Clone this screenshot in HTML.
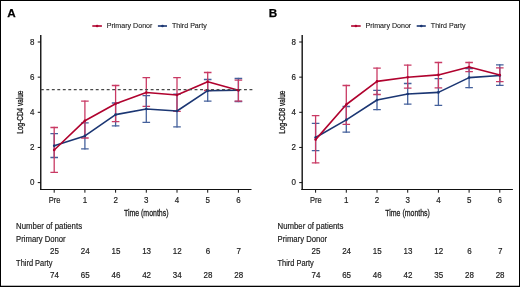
<!DOCTYPE html>
<html><head><meta charset="utf-8"><style>
html,body{margin:0;padding:0;background:#fff;}
svg{display:block;will-change:transform;font-family:"Liberation Sans", sans-serif;}
</style></head><body>
<svg width="520" height="287" viewBox="0 0 520 287">
<rect x="0" y="0" width="520" height="287" fill="#fff"/>
<text x="7.35" y="17.0" font-size="11.7" font-weight="bold" fill="#000" stroke="#000" stroke-width="0.25">A</text>
<line x1="92.3" y1="26" x2="101.9" y2="26" stroke="#b0022e" stroke-width="1.6"/>
<circle cx="97.1" cy="26" r="1.35" fill="#b0022e"/>
<text transform="translate(106.70,28.00) scale(1.0,1)" font-size="7.1" text-anchor="start" fill="#1a1a1a" stroke="#1a1a1a" stroke-width="0.1">Primary Donor</text>
<line x1="157.9" y1="26" x2="167" y2="26" stroke="#1b3673" stroke-width="1.6"/>
<circle cx="162.5" cy="26" r="1.35" fill="#1b3673"/>
<text transform="translate(172.00,28.00) scale(1.0,1)" font-size="7.1" text-anchor="start" fill="#1a1a1a" stroke="#1a1a1a" stroke-width="0.1">Third Party</text>
<line x1="40.75" y1="35" x2="40.75" y2="190" stroke="#1a1a1a" stroke-width="1.45"/>
<line x1="40" y1="189.5" x2="251.5" y2="189.5" stroke="#111" stroke-width="1.2"/>
<line x1="37.75" y1="182.60" x2="40.75" y2="182.60" stroke="#111" stroke-width="1"/>
<text transform="translate(34.45,185.20) scale(0.92,1)" font-size="8.7" text-anchor="end" fill="#1a1a1a" stroke="#1a1a1a" stroke-width="0.18">0</text>
<line x1="37.75" y1="147.45" x2="40.75" y2="147.45" stroke="#111" stroke-width="1"/>
<text transform="translate(34.45,150.05) scale(0.92,1)" font-size="8.7" text-anchor="end" fill="#1a1a1a" stroke="#1a1a1a" stroke-width="0.18">2</text>
<line x1="37.75" y1="112.30" x2="40.75" y2="112.30" stroke="#111" stroke-width="1"/>
<text transform="translate(34.45,114.90) scale(0.92,1)" font-size="8.7" text-anchor="end" fill="#1a1a1a" stroke="#1a1a1a" stroke-width="0.18">4</text>
<line x1="37.75" y1="77.15" x2="40.75" y2="77.15" stroke="#111" stroke-width="1"/>
<text transform="translate(34.45,79.75) scale(0.92,1)" font-size="8.7" text-anchor="end" fill="#1a1a1a" stroke="#1a1a1a" stroke-width="0.18">6</text>
<line x1="37.75" y1="42.00" x2="40.75" y2="42.00" stroke="#111" stroke-width="1"/>
<text transform="translate(34.45,44.60) scale(0.92,1)" font-size="8.7" text-anchor="end" fill="#1a1a1a" stroke="#1a1a1a" stroke-width="0.18">8</text>
<line x1="54.2" y1="189.5" x2="54.2" y2="192.7" stroke="#111" stroke-width="1"/>
<text transform="translate(54.50,202.70) scale(0.87,1)" font-size="8.7" text-anchor="middle" fill="#1a1a1a" stroke="#1a1a1a" stroke-width="0.18">Pre</text>
<line x1="84.9" y1="189.5" x2="84.9" y2="192.7" stroke="#111" stroke-width="1"/>
<text transform="translate(84.90,202.70) scale(0.92,1)" font-size="8.7" text-anchor="middle" fill="#1a1a1a" stroke="#1a1a1a" stroke-width="0.18">1</text>
<line x1="115.6" y1="189.5" x2="115.6" y2="192.7" stroke="#111" stroke-width="1"/>
<text transform="translate(115.60,202.70) scale(0.92,1)" font-size="8.7" text-anchor="middle" fill="#1a1a1a" stroke="#1a1a1a" stroke-width="0.18">2</text>
<line x1="146.3" y1="189.5" x2="146.3" y2="192.7" stroke="#111" stroke-width="1"/>
<text transform="translate(146.30,202.70) scale(0.92,1)" font-size="8.7" text-anchor="middle" fill="#1a1a1a" stroke="#1a1a1a" stroke-width="0.18">3</text>
<line x1="177.0" y1="189.5" x2="177.0" y2="192.7" stroke="#111" stroke-width="1"/>
<text transform="translate(177.00,202.70) scale(0.92,1)" font-size="8.7" text-anchor="middle" fill="#1a1a1a" stroke="#1a1a1a" stroke-width="0.18">4</text>
<line x1="207.7" y1="189.5" x2="207.7" y2="192.7" stroke="#111" stroke-width="1"/>
<text transform="translate(207.70,202.70) scale(0.92,1)" font-size="8.7" text-anchor="middle" fill="#1a1a1a" stroke="#1a1a1a" stroke-width="0.18">5</text>
<line x1="238.4" y1="189.5" x2="238.4" y2="192.7" stroke="#111" stroke-width="1"/>
<text transform="translate(238.40,202.70) scale(0.92,1)" font-size="8.7" text-anchor="middle" fill="#1a1a1a" stroke="#1a1a1a" stroke-width="0.18">6</text>
<text transform="translate(146.2,216) scale(0.705,1)" font-size="9.9" text-anchor="middle" fill="#1a1a1a" stroke="#1a1a1a" stroke-width="0.3">Time (months)</text>
<text transform="translate(23.4,112.1) rotate(-90) scale(0.77,1)" font-size="8.4" text-anchor="middle" fill="#1a1a1a" stroke="#1a1a1a" stroke-width="0.3">Log-CD4 value</text>
<path d="M50.4 133.7H58.0M50.4 157.5H58.0" stroke="#45619c" stroke-width="1.3" fill="none"/>
<path d="M81.1 122.8H88.7M81.1 148.8H88.7" stroke="#45619c" stroke-width="1.3" fill="none"/>
<path d="M111.8 103H119.4M111.8 125.9H119.4" stroke="#45619c" stroke-width="1.3" fill="none"/>
<path d="M142.5 95.7H150.1M142.5 122.3H150.1" stroke="#45619c" stroke-width="1.3" fill="none"/>
<path d="M173.2 94.1H180.8M173.2 126.8H180.8" stroke="#45619c" stroke-width="1.3" fill="none"/>
<path d="M203.9 79.5H211.5M203.9 101.2H211.5" stroke="#45619c" stroke-width="1.3" fill="none"/>
<path d="M234.6 78.5H242.2M234.6 101.5H242.2" stroke="#45619c" stroke-width="1.3" fill="none"/>
<path d="M50.4 127.5H58.0M50.4 172.3H58.0" stroke="#c93a64" stroke-width="1.3" fill="none"/>
<path d="M81.1 101.2H88.7M81.1 138H88.7" stroke="#c93a64" stroke-width="1.3" fill="none"/>
<path d="M111.8 85.5H119.4M111.8 121.6H119.4" stroke="#c93a64" stroke-width="1.3" fill="none"/>
<path d="M142.5 77.7H150.1M142.5 106.3H150.1" stroke="#c93a64" stroke-width="1.3" fill="none"/>
<path d="M173.2 77.7H180.8M173.2 111.3H180.8" stroke="#c93a64" stroke-width="1.3" fill="none"/>
<path d="M203.9 72.5H211.5M203.9 90.5H211.5" stroke="#c93a64" stroke-width="1.3" fill="none"/>
<path d="M234.6 80.2H242.2M234.6 101.2H242.2" stroke="#c93a64" stroke-width="1.3" fill="none"/>
<path d="M54.2 133.04999999999998V158.15" stroke="#45619c" stroke-width="1.3" fill="none"/>
<path d="M54.2 126.85V172.95000000000002" stroke="#c93a64" stroke-width="1.3" fill="none"/>
<path d="M84.9 122.14999999999999V149.45000000000002" stroke="#45619c" stroke-width="1.3" fill="none"/>
<path d="M84.9 100.55V138.65" stroke="#c93a64" stroke-width="1.3" fill="none"/>
<path d="M115.6 102.35V126.55000000000001" stroke="#45619c" stroke-width="1.3" fill="none"/>
<path d="M115.6 84.85V122.25" stroke="#c93a64" stroke-width="1.3" fill="none"/>
<path d="M146.3 77.05V106.95" stroke="#c93a64" stroke-width="1.3" fill="none"/>
<path d="M146.3 95.05V122.95" stroke="#45619c" stroke-width="1.3" fill="none"/>
<path d="M177.0 93.44999999999999V127.45" stroke="#45619c" stroke-width="1.3" fill="none"/>
<path d="M177.0 77.05V111.95" stroke="#c93a64" stroke-width="1.3" fill="none"/>
<path d="M207.7 78.85V101.85000000000001" stroke="#45619c" stroke-width="1.3" fill="none"/>
<path d="M207.7 71.85V91.15" stroke="#c93a64" stroke-width="1.3" fill="none"/>
<path d="M238.4 77.85V102.15" stroke="#45619c" stroke-width="1.3" fill="none"/>
<path d="M238.4 79.55V101.85000000000001" stroke="#c93a64" stroke-width="1.3" fill="none"/>
<polyline points="54.2,145.8 84.9,135.9 115.6,114.6 146.3,109 177.0,111 207.7,90.7 238.4,90.3" stroke="#1b3673" stroke-width="1.6" fill="none" stroke-linejoin="round"/>
<circle cx="54.2" cy="145.8" r="1.3" fill="#1b3673"/>
<circle cx="84.9" cy="135.9" r="1.3" fill="#1b3673"/>
<circle cx="115.6" cy="114.6" r="1.3" fill="#1b3673"/>
<circle cx="146.3" cy="109" r="1.3" fill="#1b3673"/>
<circle cx="177.0" cy="111" r="1.3" fill="#1b3673"/>
<circle cx="207.7" cy="90.7" r="1.3" fill="#1b3673"/>
<circle cx="238.4" cy="90.3" r="1.3" fill="#1b3673"/>
<polyline points="54.2,150 84.9,120.7 115.6,103.8 146.3,92.5 177.0,95 207.7,81.7 238.4,90.3" stroke="#b0022e" stroke-width="1.6" fill="none" stroke-linejoin="round"/>
<circle cx="54.2" cy="150" r="1.3" fill="#b0022e"/>
<circle cx="84.9" cy="120.7" r="1.3" fill="#b0022e"/>
<circle cx="115.6" cy="103.8" r="1.3" fill="#b0022e"/>
<circle cx="146.3" cy="92.5" r="1.3" fill="#b0022e"/>
<circle cx="177.0" cy="95" r="1.3" fill="#b0022e"/>
<circle cx="207.7" cy="81.7" r="1.3" fill="#b0022e"/>
<circle cx="238.4" cy="90.3" r="1.3" fill="#b0022e"/>
<line x1="40.86" y1="89.6" x2="252.4" y2="89.6" stroke="#484848" stroke-width="1.35" stroke-dasharray="2.9 2.59"/>
<text transform="translate(16.10,228.70) scale(0.909,1)" font-size="8.6" text-anchor="start" fill="#1a1a1a" stroke="#1a1a1a" stroke-width="0.18">Number of patients</text>
<text transform="translate(16.10,241.50) scale(0.895,1)" font-size="8.6" text-anchor="start" fill="#1a1a1a" stroke="#1a1a1a" stroke-width="0.18">Primary Donor</text>
<text transform="translate(16.10,266.10) scale(0.865,1)" font-size="8.6" text-anchor="start" fill="#1a1a1a" stroke="#1a1a1a" stroke-width="0.18">Third Party</text>
<text transform="translate(54.50,253.90) scale(0.9,1)" font-size="8.9" text-anchor="middle" fill="#1a1a1a" stroke="#1a1a1a" stroke-width="0.18">25</text>
<text transform="translate(54.50,277.90) scale(0.9,1)" font-size="8.9" text-anchor="middle" fill="#1a1a1a" stroke="#1a1a1a" stroke-width="0.18">74</text>
<text transform="translate(85.20,253.90) scale(0.9,1)" font-size="8.9" text-anchor="middle" fill="#1a1a1a" stroke="#1a1a1a" stroke-width="0.18">24</text>
<text transform="translate(85.20,277.90) scale(0.9,1)" font-size="8.9" text-anchor="middle" fill="#1a1a1a" stroke="#1a1a1a" stroke-width="0.18">65</text>
<text transform="translate(115.90,253.90) scale(0.9,1)" font-size="8.9" text-anchor="middle" fill="#1a1a1a" stroke="#1a1a1a" stroke-width="0.18">15</text>
<text transform="translate(115.90,277.90) scale(0.9,1)" font-size="8.9" text-anchor="middle" fill="#1a1a1a" stroke="#1a1a1a" stroke-width="0.18">46</text>
<text transform="translate(146.60,253.90) scale(0.9,1)" font-size="8.9" text-anchor="middle" fill="#1a1a1a" stroke="#1a1a1a" stroke-width="0.18">13</text>
<text transform="translate(146.60,277.90) scale(0.9,1)" font-size="8.9" text-anchor="middle" fill="#1a1a1a" stroke="#1a1a1a" stroke-width="0.18">42</text>
<text transform="translate(177.30,253.90) scale(0.9,1)" font-size="8.9" text-anchor="middle" fill="#1a1a1a" stroke="#1a1a1a" stroke-width="0.18">12</text>
<text transform="translate(177.30,277.90) scale(0.9,1)" font-size="8.9" text-anchor="middle" fill="#1a1a1a" stroke="#1a1a1a" stroke-width="0.18">34</text>
<text transform="translate(208.00,253.90) scale(0.9,1)" font-size="8.9" text-anchor="middle" fill="#1a1a1a" stroke="#1a1a1a" stroke-width="0.18">6</text>
<text transform="translate(208.00,277.90) scale(0.9,1)" font-size="8.9" text-anchor="middle" fill="#1a1a1a" stroke="#1a1a1a" stroke-width="0.18">28</text>
<text transform="translate(238.70,253.90) scale(0.9,1)" font-size="8.9" text-anchor="middle" fill="#1a1a1a" stroke="#1a1a1a" stroke-width="0.18">7</text>
<text transform="translate(238.70,277.90) scale(0.9,1)" font-size="8.9" text-anchor="middle" fill="#1a1a1a" stroke="#1a1a1a" stroke-width="0.18">28</text>
<text x="268.75" y="17.0" font-size="11.7" font-weight="bold" fill="#000" stroke="#000" stroke-width="0.25">B</text>
<line x1="351.1" y1="26" x2="360.7" y2="26" stroke="#b0022e" stroke-width="1.6"/>
<circle cx="355.9" cy="26" r="1.35" fill="#b0022e"/>
<text transform="translate(365.50,28.00) scale(1.0,1)" font-size="7.1" text-anchor="start" fill="#1a1a1a" stroke="#1a1a1a" stroke-width="0.1">Primary Donor</text>
<line x1="416.7" y1="26" x2="425.8" y2="26" stroke="#1b3673" stroke-width="1.6"/>
<circle cx="421.3" cy="26" r="1.35" fill="#1b3673"/>
<text transform="translate(430.80,28.00) scale(1.0,1)" font-size="7.1" text-anchor="start" fill="#1a1a1a" stroke="#1a1a1a" stroke-width="0.1">Third Party</text>
<line x1="302.2" y1="35" x2="302.2" y2="190" stroke="#1a1a1a" stroke-width="1.45"/>
<line x1="301.4" y1="189.5" x2="512.9" y2="189.5" stroke="#111" stroke-width="1.2"/>
<line x1="299.2" y1="182.60" x2="302.2" y2="182.60" stroke="#111" stroke-width="1"/>
<text transform="translate(295.90,185.20) scale(0.92,1)" font-size="8.7" text-anchor="end" fill="#1a1a1a" stroke="#1a1a1a" stroke-width="0.18">0</text>
<line x1="299.2" y1="147.45" x2="302.2" y2="147.45" stroke="#111" stroke-width="1"/>
<text transform="translate(295.90,150.05) scale(0.92,1)" font-size="8.7" text-anchor="end" fill="#1a1a1a" stroke="#1a1a1a" stroke-width="0.18">2</text>
<line x1="299.2" y1="112.30" x2="302.2" y2="112.30" stroke="#111" stroke-width="1"/>
<text transform="translate(295.90,114.90) scale(0.92,1)" font-size="8.7" text-anchor="end" fill="#1a1a1a" stroke="#1a1a1a" stroke-width="0.18">4</text>
<line x1="299.2" y1="77.15" x2="302.2" y2="77.15" stroke="#111" stroke-width="1"/>
<text transform="translate(295.90,79.75) scale(0.92,1)" font-size="8.7" text-anchor="end" fill="#1a1a1a" stroke="#1a1a1a" stroke-width="0.18">6</text>
<line x1="299.2" y1="42.00" x2="302.2" y2="42.00" stroke="#111" stroke-width="1"/>
<text transform="translate(295.90,44.60) scale(0.92,1)" font-size="8.7" text-anchor="end" fill="#1a1a1a" stroke="#1a1a1a" stroke-width="0.18">8</text>
<line x1="315.6" y1="189.5" x2="315.6" y2="192.7" stroke="#111" stroke-width="1"/>
<text transform="translate(315.90,202.70) scale(0.87,1)" font-size="8.7" text-anchor="middle" fill="#1a1a1a" stroke="#1a1a1a" stroke-width="0.18">Pre</text>
<line x1="346.3" y1="189.5" x2="346.3" y2="192.7" stroke="#111" stroke-width="1"/>
<text transform="translate(346.30,202.70) scale(0.92,1)" font-size="8.7" text-anchor="middle" fill="#1a1a1a" stroke="#1a1a1a" stroke-width="0.18">1</text>
<line x1="377.0" y1="189.5" x2="377.0" y2="192.7" stroke="#111" stroke-width="1"/>
<text transform="translate(377.00,202.70) scale(0.92,1)" font-size="8.7" text-anchor="middle" fill="#1a1a1a" stroke="#1a1a1a" stroke-width="0.18">2</text>
<line x1="407.7" y1="189.5" x2="407.7" y2="192.7" stroke="#111" stroke-width="1"/>
<text transform="translate(407.70,202.70) scale(0.92,1)" font-size="8.7" text-anchor="middle" fill="#1a1a1a" stroke="#1a1a1a" stroke-width="0.18">3</text>
<line x1="438.4" y1="189.5" x2="438.4" y2="192.7" stroke="#111" stroke-width="1"/>
<text transform="translate(438.40,202.70) scale(0.92,1)" font-size="8.7" text-anchor="middle" fill="#1a1a1a" stroke="#1a1a1a" stroke-width="0.18">4</text>
<line x1="469.1" y1="189.5" x2="469.1" y2="192.7" stroke="#111" stroke-width="1"/>
<text transform="translate(469.10,202.70) scale(0.92,1)" font-size="8.7" text-anchor="middle" fill="#1a1a1a" stroke="#1a1a1a" stroke-width="0.18">5</text>
<line x1="499.8" y1="189.5" x2="499.8" y2="192.7" stroke="#111" stroke-width="1"/>
<text transform="translate(499.80,202.70) scale(0.92,1)" font-size="8.7" text-anchor="middle" fill="#1a1a1a" stroke="#1a1a1a" stroke-width="0.18">6</text>
<text transform="translate(407.6,216) scale(0.705,1)" font-size="9.9" text-anchor="middle" fill="#1a1a1a" stroke="#1a1a1a" stroke-width="0.3">Time (months)</text>
<text transform="translate(284.8,112.1) rotate(-90) scale(0.77,1)" font-size="8.4" text-anchor="middle" fill="#1a1a1a" stroke="#1a1a1a" stroke-width="0.3">Log-CD8 value</text>
<path d="M311.8 123.4H319.4M311.8 150.6H319.4" stroke="#45619c" stroke-width="1.3" fill="none"/>
<path d="M342.5 106.5H350.1M342.5 132.1H350.1" stroke="#45619c" stroke-width="1.3" fill="none"/>
<path d="M373.2 90.3H380.8M373.2 109.6H380.8" stroke="#45619c" stroke-width="1.3" fill="none"/>
<path d="M403.9 83.5H411.5M403.9 104.2H411.5" stroke="#45619c" stroke-width="1.3" fill="none"/>
<path d="M434.6 78.6H442.2M434.6 105.4H442.2" stroke="#45619c" stroke-width="1.3" fill="none"/>
<path d="M465.3 68.5H472.9M465.3 87.6H472.9" stroke="#45619c" stroke-width="1.3" fill="none"/>
<path d="M496.0 64.8H503.6M496.0 85.3H503.6" stroke="#45619c" stroke-width="1.3" fill="none"/>
<path d="M311.8 115.6H319.4M311.8 162.8H319.4" stroke="#c93a64" stroke-width="1.3" fill="none"/>
<path d="M342.5 85.5H350.1M342.5 124.3H350.1" stroke="#c93a64" stroke-width="1.3" fill="none"/>
<path d="M373.2 68.2H380.8M373.2 94.5H380.8" stroke="#c93a64" stroke-width="1.3" fill="none"/>
<path d="M403.9 65.2H411.5M403.9 88.2H411.5" stroke="#c93a64" stroke-width="1.3" fill="none"/>
<path d="M434.6 62.5H442.2M434.6 87.8H442.2" stroke="#c93a64" stroke-width="1.3" fill="none"/>
<path d="M465.3 62.5H472.9M465.3 71.7H472.9" stroke="#c93a64" stroke-width="1.3" fill="none"/>
<path d="M496.0 67.8H503.6M496.0 81.6H503.6" stroke="#c93a64" stroke-width="1.3" fill="none"/>
<path d="M315.6 122.75V151.25" stroke="#45619c" stroke-width="1.3" fill="none"/>
<path d="M315.6 114.94999999999999V163.45000000000002" stroke="#c93a64" stroke-width="1.3" fill="none"/>
<path d="M346.3 105.85V132.75" stroke="#45619c" stroke-width="1.3" fill="none"/>
<path d="M346.3 84.85V124.95" stroke="#c93a64" stroke-width="1.3" fill="none"/>
<path d="M377.0 89.64999999999999V110.25" stroke="#45619c" stroke-width="1.3" fill="none"/>
<path d="M377.0 67.55V95.15" stroke="#c93a64" stroke-width="1.3" fill="none"/>
<path d="M407.7 82.85V104.85000000000001" stroke="#45619c" stroke-width="1.3" fill="none"/>
<path d="M407.7 64.55V88.85000000000001" stroke="#c93a64" stroke-width="1.3" fill="none"/>
<path d="M438.4 77.94999999999999V106.05000000000001" stroke="#45619c" stroke-width="1.3" fill="none"/>
<path d="M438.4 61.85V88.45" stroke="#c93a64" stroke-width="1.3" fill="none"/>
<path d="M469.1 67.85V88.25" stroke="#45619c" stroke-width="1.3" fill="none"/>
<path d="M469.1 61.85V72.35000000000001" stroke="#c93a64" stroke-width="1.3" fill="none"/>
<path d="M499.8 64.14999999999999V85.95" stroke="#45619c" stroke-width="1.3" fill="none"/>
<path d="M499.8 67.14999999999999V82.25" stroke="#c93a64" stroke-width="1.3" fill="none"/>
<polyline points="315.6,137.5 346.3,119.9 377.0,100 407.7,94 438.4,92.4 469.1,77.6 499.8,75.5" stroke="#1b3673" stroke-width="1.6" fill="none" stroke-linejoin="round"/>
<circle cx="315.6" cy="137.5" r="1.3" fill="#1b3673"/>
<circle cx="346.3" cy="119.9" r="1.3" fill="#1b3673"/>
<circle cx="377.0" cy="100" r="1.3" fill="#1b3673"/>
<circle cx="407.7" cy="94" r="1.3" fill="#1b3673"/>
<circle cx="438.4" cy="92.4" r="1.3" fill="#1b3673"/>
<circle cx="469.1" cy="77.6" r="1.3" fill="#1b3673"/>
<circle cx="499.8" cy="75.5" r="1.3" fill="#1b3673"/>
<polyline points="315.6,139.6 346.3,104.5 377.0,81.4 407.7,77.2 438.4,74.9 469.1,67 499.8,75" stroke="#b0022e" stroke-width="1.6" fill="none" stroke-linejoin="round"/>
<circle cx="315.6" cy="139.6" r="1.3" fill="#b0022e"/>
<circle cx="346.3" cy="104.5" r="1.3" fill="#b0022e"/>
<circle cx="377.0" cy="81.4" r="1.3" fill="#b0022e"/>
<circle cx="407.7" cy="77.2" r="1.3" fill="#b0022e"/>
<circle cx="438.4" cy="74.9" r="1.3" fill="#b0022e"/>
<circle cx="469.1" cy="67" r="1.3" fill="#b0022e"/>
<circle cx="499.8" cy="75" r="1.3" fill="#b0022e"/>
<text transform="translate(277.50,228.70) scale(0.909,1)" font-size="8.6" text-anchor="start" fill="#1a1a1a" stroke="#1a1a1a" stroke-width="0.18">Number of patients</text>
<text transform="translate(277.50,241.50) scale(0.895,1)" font-size="8.6" text-anchor="start" fill="#1a1a1a" stroke="#1a1a1a" stroke-width="0.18">Primary Donor</text>
<text transform="translate(277.50,266.10) scale(0.865,1)" font-size="8.6" text-anchor="start" fill="#1a1a1a" stroke="#1a1a1a" stroke-width="0.18">Third Party</text>
<text transform="translate(315.90,253.90) scale(0.9,1)" font-size="8.9" text-anchor="middle" fill="#1a1a1a" stroke="#1a1a1a" stroke-width="0.18">25</text>
<text transform="translate(315.90,277.90) scale(0.9,1)" font-size="8.9" text-anchor="middle" fill="#1a1a1a" stroke="#1a1a1a" stroke-width="0.18">74</text>
<text transform="translate(346.60,253.90) scale(0.9,1)" font-size="8.9" text-anchor="middle" fill="#1a1a1a" stroke="#1a1a1a" stroke-width="0.18">24</text>
<text transform="translate(346.60,277.90) scale(0.9,1)" font-size="8.9" text-anchor="middle" fill="#1a1a1a" stroke="#1a1a1a" stroke-width="0.18">65</text>
<text transform="translate(377.30,253.90) scale(0.9,1)" font-size="8.9" text-anchor="middle" fill="#1a1a1a" stroke="#1a1a1a" stroke-width="0.18">15</text>
<text transform="translate(377.30,277.90) scale(0.9,1)" font-size="8.9" text-anchor="middle" fill="#1a1a1a" stroke="#1a1a1a" stroke-width="0.18">46</text>
<text transform="translate(408.00,253.90) scale(0.9,1)" font-size="8.9" text-anchor="middle" fill="#1a1a1a" stroke="#1a1a1a" stroke-width="0.18">13</text>
<text transform="translate(408.00,277.90) scale(0.9,1)" font-size="8.9" text-anchor="middle" fill="#1a1a1a" stroke="#1a1a1a" stroke-width="0.18">42</text>
<text transform="translate(438.70,253.90) scale(0.9,1)" font-size="8.9" text-anchor="middle" fill="#1a1a1a" stroke="#1a1a1a" stroke-width="0.18">12</text>
<text transform="translate(438.70,277.90) scale(0.9,1)" font-size="8.9" text-anchor="middle" fill="#1a1a1a" stroke="#1a1a1a" stroke-width="0.18">35</text>
<text transform="translate(469.40,253.90) scale(0.9,1)" font-size="8.9" text-anchor="middle" fill="#1a1a1a" stroke="#1a1a1a" stroke-width="0.18">6</text>
<text transform="translate(469.40,277.90) scale(0.9,1)" font-size="8.9" text-anchor="middle" fill="#1a1a1a" stroke="#1a1a1a" stroke-width="0.18">28</text>
<text transform="translate(500.10,253.90) scale(0.9,1)" font-size="8.9" text-anchor="middle" fill="#1a1a1a" stroke="#1a1a1a" stroke-width="0.18">7</text>
<text transform="translate(500.10,277.90) scale(0.9,1)" font-size="8.9" text-anchor="middle" fill="#1a1a1a" stroke="#1a1a1a" stroke-width="0.18">28</text>
<rect x="0" y="0" width="520" height="1" fill="#000"/>
<rect x="0" y="0" width="1" height="287" fill="#000"/>
<rect x="519" y="0" width="1" height="287" fill="#000"/>
<rect x="1" y="285" width="518" height="1" fill="#b8b8b8"/>
<rect x="0" y="286" width="520" height="1" fill="#000"/>
</svg>
</body></html>
